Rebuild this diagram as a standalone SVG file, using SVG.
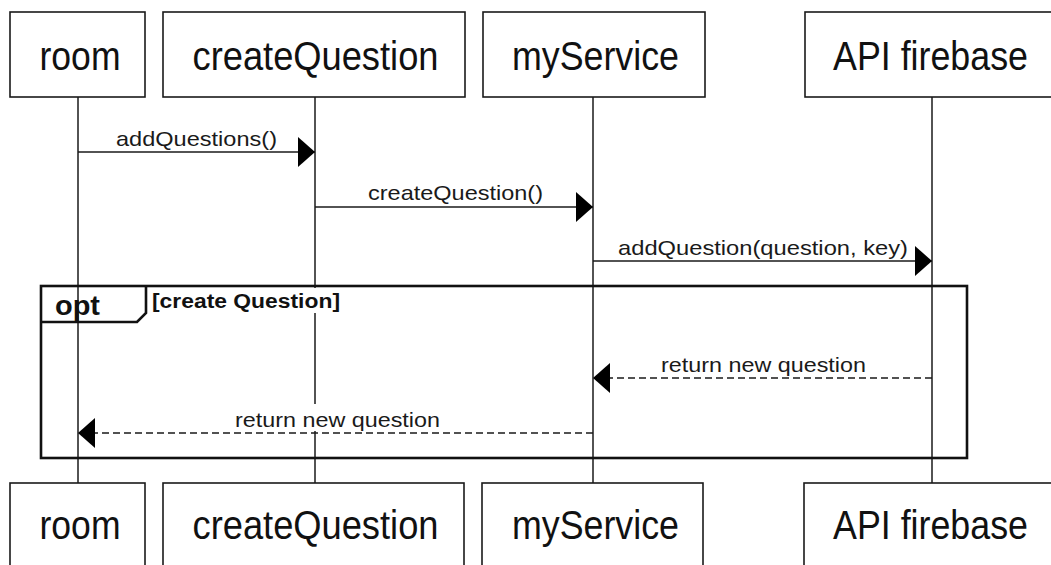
<svg xmlns="http://www.w3.org/2000/svg" width="1051" height="565" viewBox="0 0 1051 565">
  <style>
    .box { fill: #ffffff; stroke: #1a1a1a; stroke-width: 1.6; }
    .name { font-family: "Liberation Sans", Arial, sans-serif; font-size: 40px; fill: #111111; text-anchor: middle; }
    .life { stroke: #1a1a1a; stroke-width: 1.5; fill: none; }
    .msg { stroke: #1a1a1a; stroke-width: 1.5; fill: none; }
    .ret { stroke: #1a1a1a; stroke-width: 1.5; fill: none; stroke-dasharray: 7 4; }
    .lbl { font-family: "Liberation Sans", Arial, sans-serif; font-size: 21px; fill: #1a1a1a; text-anchor: middle; }
    .lblbg { fill: #ffffff; stroke: none; }
    .frame { fill: none; stroke: #111111; stroke-width: 2.6; }
    .kw { font-family: "Liberation Sans", Arial, sans-serif; font-size: 27px; font-weight: bold; fill: #111111; }
    .cond { font-family: "Liberation Sans", Arial, sans-serif; font-size: 20px; font-weight: bold; fill: #111111; }
  </style>
  <defs>
    <marker id="head" viewBox="0 0 17 30" refX="17" refY="15" markerWidth="17" markerHeight="30" markerUnits="userSpaceOnUse" orient="auto">
      <path d="M0,0 L17,15 L0,30 Z" fill="#000000"/>
    </marker>
  </defs>

  <rect width="1051" height="565" fill="#ffffff"/>

  <!-- lifelines -->
  <g id="lifelines">
    <line class="life" x1="78" y1="97" x2="78" y2="483"/>
    <line class="life" x1="315" y1="97" x2="315" y2="483"/>
    <line class="life" x1="593" y1="97" x2="593" y2="483"/>
    <line class="life" x1="932" y1="97" x2="932" y2="483"/>
  </g>

  <!-- opt combined fragment -->
  <g id="opt-fragment">
    <rect class="frame" x="41" y="286" width="926" height="172"/>
    <path class="frame" d="M41,322 L137,322 L146,313 L146,286"/>
    <text class="kw" x="55" y="315" textLength="45" lengthAdjust="spacingAndGlyphs">opt</text>
    <rect class="lblbg" x="150" y="288" width="193" height="25"/>
    <text class="cond" x="152" y="308" textLength="188" lengthAdjust="spacingAndGlyphs">[create Question]</text>
  </g>

  <!-- messages -->
  <g id="connectors">
    <line class="msg" x1="78" y1="152" x2="315" y2="152" marker-end="url(#head)"/>
    <text class="lbl" x="196.5" y="146" textLength="161" lengthAdjust="spacingAndGlyphs">addQuestions()</text>

    <line class="msg" x1="315" y1="207" x2="593" y2="207" marker-end="url(#head)"/>
    <text class="lbl" x="455.5" y="200" textLength="175" lengthAdjust="spacingAndGlyphs">createQuestion()</text>

    <line class="msg" x1="593" y1="261" x2="932" y2="261" marker-end="url(#head)"/>
    <text class="lbl" x="763" y="255" textLength="290" lengthAdjust="spacingAndGlyphs">addQuestion(question, key)</text>

    <line class="ret" x1="932" y1="378" x2="593" y2="378" marker-end="url(#head)"/>
    <text class="lbl" x="763.5" y="372" textLength="205" lengthAdjust="spacingAndGlyphs">return new question</text>

    <rect class="lblbg" x="233" y="404" width="209" height="27"/>
    <line class="ret" x1="593" y1="433" x2="78" y2="433" marker-end="url(#head)"/>
    <text class="lbl" x="337.5" y="427" textLength="205" lengthAdjust="spacingAndGlyphs">return new question</text>
  </g>

  <!-- participants, head -->
  <g id="room-top">
    <rect class="box" x="10" y="12" width="135" height="85"/>
    <text class="name" x="80" y="70" textLength="81" lengthAdjust="spacingAndGlyphs">room</text>
  </g>
  <g id="createQuestion-top">
    <rect class="box" x="163" y="12" width="302" height="85"/>
    <text class="name" x="315.5" y="70" textLength="246" lengthAdjust="spacingAndGlyphs">createQuestion</text>
  </g>
  <g id="myService-top">
    <rect class="box" x="483" y="12" width="222" height="85"/>
    <text class="name" x="595.5" y="70" textLength="167" lengthAdjust="spacingAndGlyphs">myService</text>
  </g>
  <g id="firebase-top">
    <rect class="box" x="805" y="12" width="254" height="85"/>
    <text class="name" x="930.5" y="70" textLength="195" lengthAdjust="spacingAndGlyphs">API firebase</text>
  </g>

  <!-- participants, foot -->
  <g id="room-bottom">
    <rect class="box" x="10" y="483" width="135" height="90"/>
    <text class="name" x="80" y="539" textLength="81" lengthAdjust="spacingAndGlyphs">room</text>
  </g>
  <g id="createQuestion-bottom">
    <rect class="box" x="163" y="483" width="301" height="90"/>
    <text class="name" x="315.5" y="539" textLength="246" lengthAdjust="spacingAndGlyphs">createQuestion</text>
  </g>
  <g id="myService-bottom">
    <rect class="box" x="482" y="483" width="221" height="90"/>
    <text class="name" x="595.5" y="539" textLength="167" lengthAdjust="spacingAndGlyphs">myService</text>
  </g>
  <g id="firebase-bottom">
    <rect class="box" x="804" y="483" width="255" height="90"/>
    <text class="name" x="930.5" y="539" textLength="195" lengthAdjust="spacingAndGlyphs">API firebase</text>
  </g>
</svg>
